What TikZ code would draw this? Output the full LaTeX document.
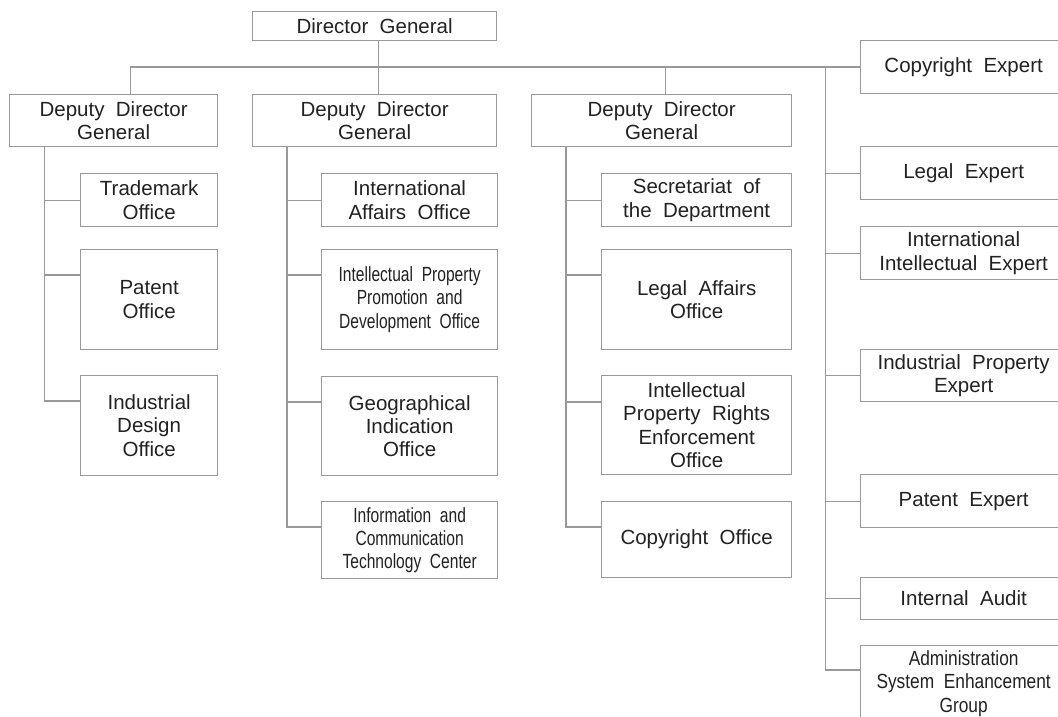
\documentclass[tikz,border=0pt]{standalone}
\usepackage{fontspec}
\setmainfont[WordSpace=2]{Liberation Sans}
\newfontfamily\narrowA[FakeStretch=0.76,WordSpace=2]{Liberation Sans}
\newfontfamily\narrowB[FakeStretch=0.845,WordSpace=2]{Liberation Sans}
\definecolor{linegray}{HTML}{999999}
\definecolor{txtcol}{HTML}{222222}
\begin{document}
\begin{tikzpicture}[x=1pt,y=-1pt,
  box/.style={draw=linegray, line width=1.3pt, rectangle, anchor=north west,
    inner sep=0pt, align=center, text=txtcol,
    font=\fontsize{20.5}{23.3}\selectfont},
  narrowa/.style={font=\narrowA\fontsize{20.5}{23.3}\selectfont},
  narrowb/.style={font=\narrowB\fontsize{20.5}{23.3}\selectfont},
  conn/.style={draw=linegray, line width=1.3pt}]
\useasboundingbox (0,0) rectangle (1058,717);
\clip (0,0) rectangle (1058,717);
\fill[white] (0,0) rectangle (1058,717);
% top
\node[box, minimum width=244pt, minimum height=29pt] (dg) at (252,11) {Director General};
\node[box, minimum width=208pt, minimum height=52pt] (ddg1) at (9,94) {Deputy Director\\General};
\node[box, minimum width=244pt, minimum height=52pt] (ddg2) at (252,94) {Deputy Director\\General};
\node[box, minimum width=260pt, minimum height=52pt] (ddg3) at (531,94) {Deputy Director\\General};
% column 1
\node[box, minimum width=137pt, minimum height=53pt] (tm) at (80,173) {Trademark\\Office};
\node[box, minimum width=137pt, minimum height=100pt] (po) at (80,249) {Patent\\Office};
\node[box, minimum width=137pt, minimum height=100pt] (id) at (80,375) {Industrial\\Design\\Office};
% column 2
\node[box, minimum width=176pt, minimum height=53pt] (iao) at (321,173) {International\\Affairs Office};
\node[box, narrowa, minimum width=176pt, minimum height=100pt] (ipp) at (321,249) {Intellectual Property\\Promotion and\\Development Office};
\node[box, minimum width=176pt, minimum height=99pt] (gi) at (321,376) {Geographical\\Indication\\Office};
\node[box, narrowa, minimum width=176pt, minimum height=77pt] (ict) at (321,501) {Information and\\Communication\\Technology Center};
% column 3
\node[box, minimum width=190pt, minimum height=53pt] (sd) at (601,173) {Secretariat of\\the Department};
\node[box, minimum width=190pt, minimum height=100pt] (la) at (601,249) {Legal Affairs\\Office};
\node[box, minimum width=190pt, minimum height=99pt] (ipr) at (601,375) {Intellectual\\Property Rights\\Enforcement\\Office};
\node[box, minimum width=190pt, minimum height=76pt] (co) at (601,501) {Copyright Office};
% experts
\node[box, minimum width=206pt, minimum height=53pt] (ce) at (860,40) {Copyright Expert};
\node[box, minimum width=206pt, minimum height=53pt] (le) at (860,146) {Legal Expert};
\node[box, minimum width=206pt, minimum height=53pt] (iie) at (860,226) {International\\Intellectual Expert};
\node[box, minimum width=206pt, minimum height=52pt] (ipe) at (860,349) {Industrial Property\\Expert};
\node[box, minimum width=206pt, minimum height=53pt] (pe) at (860,474) {Patent Expert};
\node[box, minimum width=206pt, minimum height=42pt] (ia) at (860,577) {Internal Audit};
\node[box, narrowb, minimum width=206pt, minimum height=76pt] (adm) at (860,645) {Administration\\System Enhancement\\Group};
% top connectors
\draw[conn] ([xshift=4pt]dg.south) -- ([xshift=4pt]ddg2.north);
\coordinate (d1t) at ([xshift=16.5pt]ddg1.north);
\draw[conn] (d1t) |- (ce.west);
\coordinate (d3t) at ([xshift=4pt]ddg3.north);
\draw[conn] (d3t) -- (d3t |- ce.west);
% column 1 connectors
\coordinate (v1) at ([xshift=35.5pt]ddg1.south west);
\coordinate (pob) at ([yshift=-26pt]po.north west);
\coordinate (idb) at ([yshift=-26pt]id.north west);
\draw[conn] (v1) |- (idb);
\draw[conn] (tm.west) -- (tm.west -| v1);
\draw[conn] (pob) -- (pob -| v1);
% column 2 connectors
\coordinate (v2) at ([xshift=35pt]ddg2.south west);
\coordinate (ippb) at ([yshift=-26pt]ipp.north west);
\coordinate (gib) at ([yshift=-26pt]gi.north west);
\coordinate (ictb) at ([yshift=-26pt]ict.north west);
\draw[conn] (v2) |- (ictb);
\draw[conn] (iao.west) -- (iao.west -| v2);
\draw[conn] (ippb) -- (ippb -| v2);
\draw[conn] (gib) -- (gib -| v2);
% column 3 connectors
\coordinate (v3) at ([xshift=35pt]ddg3.south west);
\coordinate (lab) at ([yshift=-26pt]la.north west);
\coordinate (iprb) at ([yshift=-27pt]ipr.north west);
\coordinate (cob) at ([yshift=-26pt]co.north west);
\draw[conn] (v3) |- (cob);
\draw[conn] (sd.west) -- (sd.west -| v3);
\draw[conn] (lab) -- (lab -| v3);
\draw[conn] (iprb) -- (iprb -| v3);
% expert connectors
\coordinate (ev) at ([xshift=-34.5pt]ce.west);
\coordinate (admb) at ([yshift=-25pt]adm.north west);
\draw[conn] (ev) |- (admb);
\draw[conn] (le.west) -- (le.west -| ev);
\draw[conn] (iie.west) -- (iie.west -| ev);
\draw[conn] (ipe.west) -- (ipe.west -| ev);
\draw[conn] (pe.west) -- (pe.west -| ev);
\draw[conn] (ia.west) -- (ia.west -| ev);
\end{tikzpicture}
\end{document}
